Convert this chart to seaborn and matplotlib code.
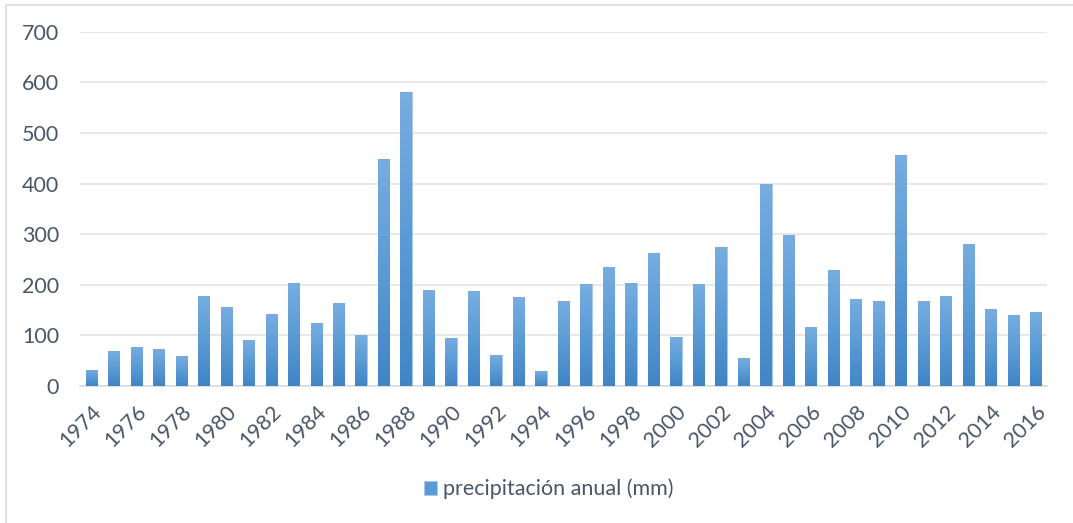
import numpy as np
import pandas as pd
import matplotlib
matplotlib.use("Agg")
import matplotlib.pyplot as plt
from matplotlib.colors import LinearSegmentedColormap
from matplotlib.lines import Line2D
from matplotlib.patches import Patch
import seaborn as sns

# Annual precipitation (mm), 1974-2016
years = list(range(1974, 2017))
precip_mm = [32, 69, 78, 74, 59, 178, 157, 90, 142, 204, 124, 163, 100,
             448, 581, 189, 95, 187, 62, 175, 29, 168, 201, 235, 204, 262,
             97, 201, 274, 55, 399, 298, 116, 229, 171, 168, 456, 168, 178,
             281, 152, 140, 147]
y_ticks = [0, 100, 200, 300, 400, 500, 600, 700]
series_label = "precipitación anual (mm)"

text_color = "#4a5669"
grid_color = "#e4e6ea"
bar_top = "#78ade0"
bar_mid = "#5b9bd5"
bar_bottom = "#4185c5"
font_size = 15.5

sns.set_theme(style="white")
plt.rcParams["font.family"] = ["Lato", "DejaVu Sans"]

df = pd.DataFrame({"year": [str(y) for y in years], "precip": precip_mm})

W, H = 1073, 523
fig = plt.figure(figsize=(W / 100, H / 100), dpi=100)
ax = fig.add_axes([80 / W, 1 - 386 / H, (1047 - 80) / W, (386 - 31.7) / H])

sns.barplot(data=df, x="year", y="precip", color=bar_mid, width=0.5,
            saturation=1, ax=ax, zorder=3)

# vertical gradient fill on each bar, clipped to the bar outline
cmap = LinearSegmentedColormap.from_list("bar_grad", [bar_bottom, bar_mid, bar_top])
grad = np.linspace(0, 1, 256).reshape(-1, 1)
for p in ax.patches:
    x0, y0 = p.get_x(), p.get_y()
    w, h = p.get_width(), p.get_height()
    p.set_edgecolor("#a9c9ea")
    p.set_linewidth(0.7)
    im = ax.imshow(grad, cmap=cmap, origin="lower", aspect="auto",
                   extent=(x0, x0 + w, y0, y0 + h), zorder=3.5)
    im.set_clip_path(p)

ax.set_xlim(-0.5, len(years) - 0.5)
ax.set_ylim(0, 700)
ax.set_yticks(y_ticks)
ax.set_yticklabels([str(v) for v in y_ticks], fontsize=font_size, color=text_color)

ax.set_xticks(range(0, len(years), 2))
ax.set_xticklabels([str(years[i]) for i in range(0, len(years), 2)],
                   rotation=45, ha="right", rotation_mode="anchor",
                   fontsize=font_size, color=text_color)

ax.tick_params(axis="y", length=0, pad=15)
ax.tick_params(axis="x", length=0, pad=11)
ax.yaxis.grid(True, color=grid_color, linewidth=1.3, zorder=0)
ax.xaxis.grid(False)
for side in ["top", "right", "left"]:
    ax.spines[side].set_visible(False)
ax.spines["bottom"].set_color("#d9dce1")
ax.spines["bottom"].set_linewidth(1.3)
ax.set_xlabel("")
ax.set_ylabel("")

# chart frame (top and left edges)
fig.add_artist(Line2D([6 / W, 1.0], [1 - 5 / H, 1 - 5 / H],
                      transform=fig.transFigure, color="#dde2ea", linewidth=1.5))
fig.add_artist(Line2D([6 / W, 6 / W], [0, 1 - 5 / H],
                      transform=fig.transFigure, color="#dde2ea", linewidth=1.5))

handle = Patch(facecolor=bar_mid, edgecolor="#a9c9ea", linewidth=0.7)
fig.legend([handle], [series_label], loc="center",
           bbox_to_anchor=(549 / W, 1 - 489 / H), frameon=False,
           fontsize=font_size, labelcolor=text_color, handlelength=0.6,
           handleheight=0.6, handletextpad=0.3)

fig.savefig("out.png", dpi=100)
